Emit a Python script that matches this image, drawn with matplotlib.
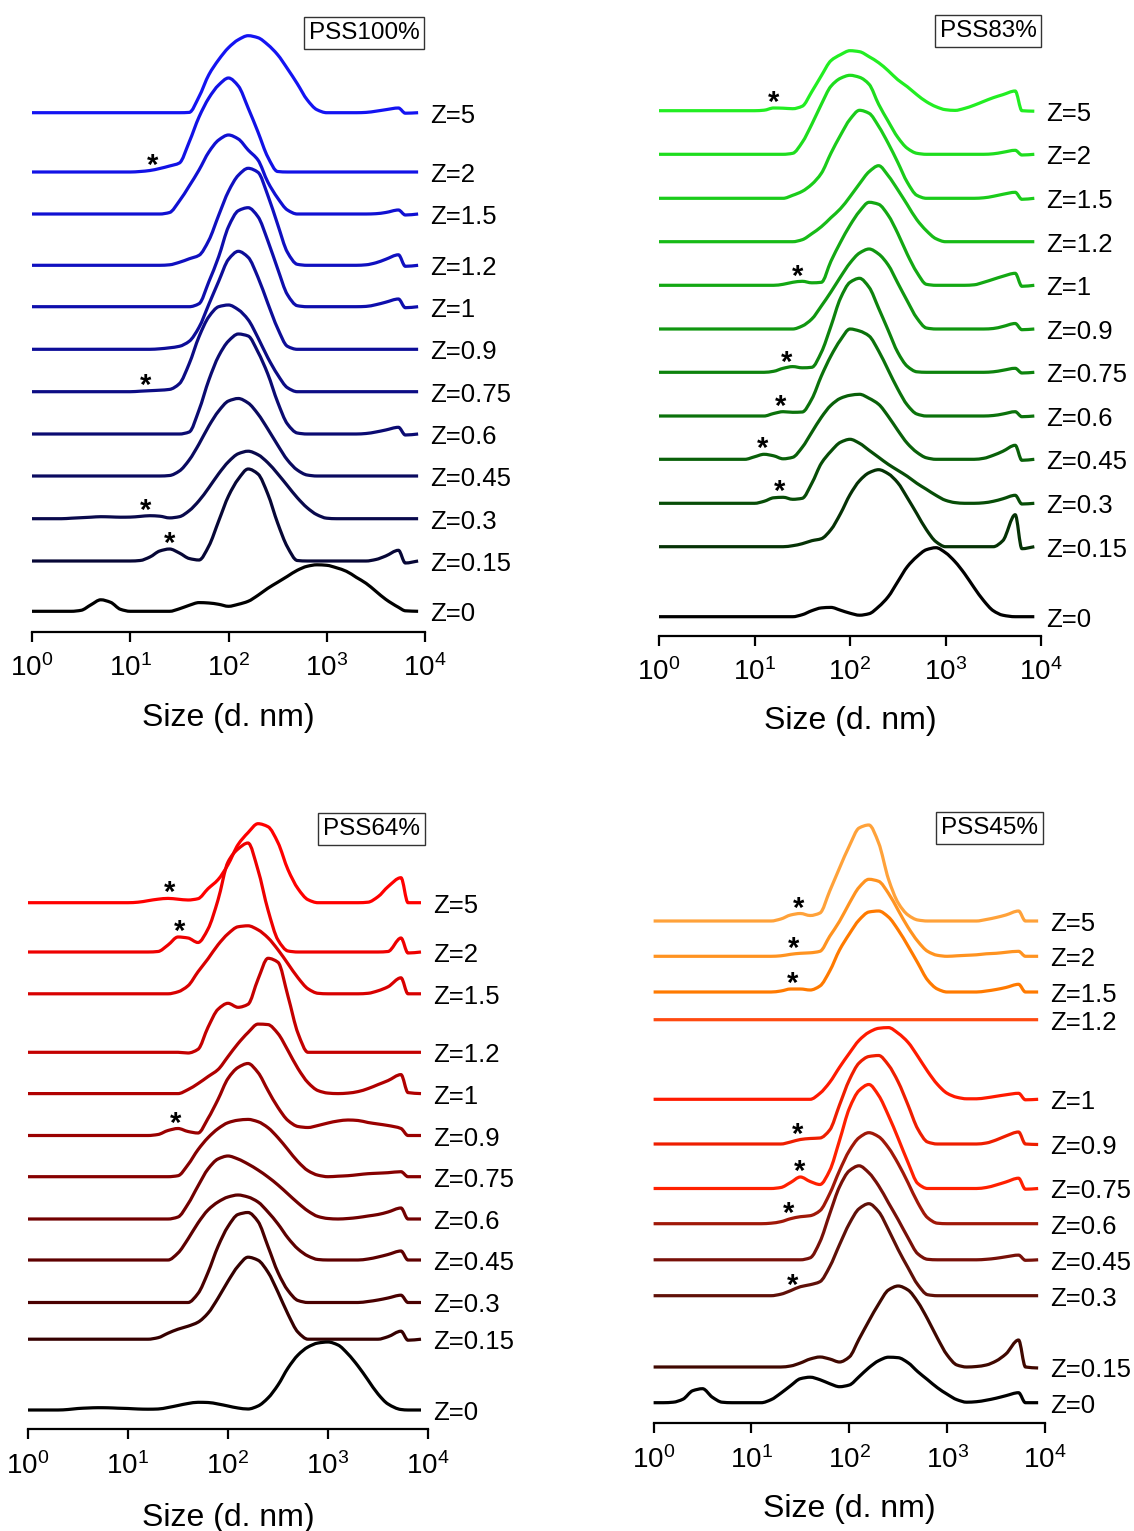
import numpy as np
import matplotlib.pyplot as plt
from matplotlib.ticker import LogLocator, NullFormatter
from matplotlib.path import Path
from matplotlib.patches import PathPatch

plt.rcParams['font.family'] = ['Liberation Sans', 'DejaVu Sans']

# log10(size / nm) of the points
log_size = [0.0, 0.1, 0.2, 0.3, 0.4, 0.5, 0.6, 0.7, 0.8, 0.9,
            1.0, 1.1, 1.2, 1.3, 1.4, 1.5, 1.6, 1.7, 1.8, 1.9,
            2.0, 2.1, 2.2, 2.3, 2.4, 2.5, 2.6, 2.7, 2.8, 2.9,
            3.0, 3.1, 3.2, 3.3, 3.4, 3.5, 3.6, 3.73, 3.8, 3.93]

z_labels = ["Z=5", "Z=2", "Z=1.5", "Z=1.2", "Z=1", "Z=0.9",
            "Z=0.75", "Z=0.6", "Z=0.45", "Z=0.3", "Z=0.15", "Z=0"]

tick_sizes = [1, 10, 100, 1000, 10000]
tick_labels = [r"$\mathregular{10^{0}}$", r"$\mathregular{10^{1}}$", r"$\mathregular{10^{2}}$",
               r"$\mathregular{10^{3}}$", r"$\mathregular{10^{4}}$"]

# ---------------- PSS100% ----------------
pss100_offsets = [519, 459.7, 417.7, 366.4, 325, 282.4, 240, 197.7, 155.7, 113, 70.7, 20.4]
pss100_curves = [
    [0, 0, 0, 0, 0, 0, 0, 0, 0, 0,
     0, 0, 0, 0, 0, 0, 0.3, 16, 38, 53,
     65, 73, 77, 75, 68, 58, 44, 29, 13, 3,
     0, 0, 0, 0, 0.3, 1.5, 3, 4.7, -0.5, 0],
    [0, 0, 0, 0, 0, 0, 0, 0, 0, 0,
     0, 0.5, 1.5, 3.5, 6, 9, 30, 55, 74, 87,
     94, 86, 64, 40, 15, 0.5, 0, 0, 0, 0,
     0, 0, 0, 0, 0, 0, 0, 0, 0, 0],
    [0, 0, 0, 0, 0, 0, 0, 0, 0, 0,
     0, 0, 0, 0, 1.5, 13, 28, 44, 62, 74,
     79, 75, 64, 54, 32, 16, 4, 0, 0, 0,
     0, 0, 0, 0, 0, 0.3, 1.5, 4, -1, 0],
    [0, 0, 0, 0, 0, 0, 0, 0, 0, 0,
     0, 0, 0, 0, 0.5, 3, 6.5, 10, 25, 50,
     74, 90, 97, 93, 70, 41, 13, 1, 0, 0,
     0, 0, 0, 0, 0.5, 2.5, 6, 10.5, -1, 0],
    [0, 0, 0, 0, 0, 0, 0, 0, 0, 0,
     0, 0, 0, 0, 0, 0, 0, 3, 25, 50,
     80, 96, 99, 90, 66, 38, 12, 1, 0, 0,
     0, 0, 0, 0, 0.3, 2, 4.5, 7.7, -1, 0],
    [0, 0, 0, 0, 0, 0, 0, 0, 0, 0,
     0, 0, 0, 0.5, 1.5, 3, 8, 22, 45, 68,
     90, 98, 92, 72, 46, 21, 3, 0, 0, 0,
     0, 0, 0, 0, 0, 0, 0, 0, 0, 0],
    [0, 0, 0, 0, 0, 0, 0, 0, 0, 0,
     0, 0.5, 1, 1.5, 2.3, 8, 28, 55, 75, 85,
     86.7, 82, 72, 54, 34, 17, 4, 0, 0, 0,
     0, 0, 0, 0, 0, 0, 0, 0, 0, 0],
    [0, 0, 0, 0, 0, 0, 0, 0, 0, 0,
     0, 0, 0, 0, 0, 0, 2, 24, 54, 78,
     93, 100, 98, 82, 60, 32, 10, 1, 0, 0,
     0, 0, 0, 0, 0.5, 2, 4, 6.7, -1, 0],
    [0, 0, 0, 0, 0, 0, 0, 0, 0, 0,
     0, 0, 0, 0, 0.5, 5, 16, 32, 50, 65,
     75, 77.5, 73, 62, 47, 31, 16, 6, 1, 0,
     0, 0, 0, 0, 0, 0, 0, 0, 0, 0],
    [0, 0, 0, 0, 0.5, 1, 1.5, 2, 1.8, 1.5,
     1.6, 2.3, 3, 2.5, 0.8, 2, 8, 18, 31, 45,
     57, 65, 67.5, 64, 56, 45, 33, 21, 11, 4,
     0.5, 0, 0, 0, 0, 0, 0, 0, 0, 0],
    [0, 0, 0, 0, 0, 0, 0, 0, 0, 0,
     0, 0.5, 4, 10, 12, 8, 2.5, 1, 15, 40,
     65, 82, 92, 87, 67, 38, 14, 0.5, 0, 0,
     0, 0, 0, 0, 0, 1.5, 5, 10.7, -2, 0],
    [0, 0, 0, 0, 0, 1, 6.5, 11.5, 9, 2,
     0, 0, 0, 0, 0, 2.5, 6, 8.7, 8.3, 7,
     5, 7, 10, 16, 23, 29, 35, 41, 45, 46.5,
     46, 43.5, 40, 34, 28, 20, 12, 4, 0.5, 0],
]
pss100_colors = ['#1414f2', '#1212e6', '#1010d2', '#1010c0', '#0e0eac', '#0d0d98',
                 '#0c0c84', '#0b0b72', '#0a0a60', '#09094c', '#070736', '#000000']
pss100_stars = [(1, 1.23), (6, 1.16), (9, 1.16), (10, 1.40)]

# ---------------- PSS83% ----------------
pss83_offsets = [525, 481.4, 437.4, 394, 350.4, 306.7, 263.4, 219.7, 176.4, 132.4, 89, 19]
pss83_curves = [
    [0, 0, 0, 0, 0, 0, 0, 0, 0, 0,
     0, 0.5, 2.7, 2.5, 2, 4.5, 19, 35, 50, 56,
     60, 59, 54, 48, 40, 31, 24, 16, 9, 4,
     1, 0.3, 2.3, 5.5, 9.3, 13, 16, 19.7, 0, -0.5],
    [0, 0, 0, 0, 0, 0, 0, 0, 0, 0,
     0, 0, 0, 0, 1, 12, 30, 50, 68, 76,
     79, 77, 70, 50, 33, 17, 6, 1, 0, 0,
     0, 0, 0, 0, 0, 0.5, 2, 4, -0.7, 0],
    [0, 0, 0, 0, 0, 0, 0, 0, 0, 0,
     0, 0, 0, 0, 3, 7, 14, 25, 45, 63,
     79, 88, 85, 72, 55, 36, 16, 3, 0, 0,
     0, 0, 0, 0, 0.5, 2, 4, 6, -1, 0],
    [0, 0, 0, 0, 0, 0, 0, 0, 0, 0,
     0, 0, 0, 0, 0, 2, 8, 15, 24, 33,
     45, 58, 70, 76, 66, 52, 37, 22, 11, 3,
     0, 0, 0, 0, 0, 0, 0, 0, 0, 0],
    [0, 0, 0, 0, 0, 0, 0, 0, 0, 0,
     0, 0, 0, 1, 3, 4, 2.5, 3, 24, 43,
     60, 74, 83, 81, 70, 52, 31, 13, 1, 0,
     0, 0, 0, 0.5, 3, 6, 9, 12, -1, 0],
    [0, 0, 0, 0, 0, 0, 0, 0, 0, 0,
     0, 0, 0, 0, 0, 3, 10, 23, 37, 52,
     66, 76, 80, 75, 64, 46, 28, 11, 1, 0,
     0, 0, 0, 0, 0, 0.5, 2.5, 5.5, -0.7, 0],
    [0, 0, 0, 0, 0, 0, 0, 0, 0, 0,
     0, 0, 1, 4, 5.7, 4.5, 5, 20, 46, 74,
     90, 94, 85, 64, 42, 20, 6, 0.5, 0, 0,
     0, 0, 0, 0, 0, 0.5, 2, 4, -0.7, 0],
    [0, 0, 0, 0, 0, 0, 0, 0, 0, 0,
     0, 0, 2.5, 4.3, 3.7, 4, 17, 40, 60, 76,
     87, 85, 80, 65, 46, 27, 11, 2, 0, 0,
     0, 0, 0, 0, 0, 0.5, 2, 4.3, -0.7, 0],
    [0, 0, 0, 0, 0, 0, 0, 0, 0, 0,
     2.5, 5, 3.5, 0.5, 2, 12, 27, 42, 54, 61,
     64, 65, 61, 55, 43, 29, 16, 7, 1.5, 0,
     0, 0, 0, 0, 1, 4, 8, 14, -1, 0],
    [0, 0, 0, 0, 0, 0, 0, 0, 0, 0,
     0, 2, 5.5, 6, 4, 5, 20, 40, 52, 61,
     64, 60, 53, 46, 39, 33, 27, 20, 14, 8,
     3, 0.7, 0, 0, 0.5, 2, 4.5, 8, -0.7, 0],
    [0, 0, 0, 0, 0, 0, 0, 0, 0, 0,
     0, 0, 0, 0, 1, 3, 6, 8, 17, 33,
     52, 66, 74, 77, 73, 64, 49, 33, 17, 5,
     0, 0, 0, 0, 0, 0, 6, 32, -2, 0],
    [0, 0, 0, 0, 0, 0, 0, 0, 0, 0,
     0, 0, 0, 0, 0, 2, 6, 8.8, 9.3, 6.5,
     3.5, 1.5, 3, 10, 20, 35, 50, 60, 67, 69,
     64, 55, 43, 29, 16, 6, 1.5, 0, 0, 0],
]
pss83_colors = ['#22ee22', '#1edd1e', '#1acc1a', '#17bb17', '#13a813', '#109610',
                '#0d830d', '#0b720b', '#096009', '#074d07', '#053205', '#000000']
pss83_stars = [(0, 1.2), (4, 1.45), (6, 1.34), (7, 1.27), (8, 1.08), (9, 1.26)]

# ---------------- PSS64% ----------------
pss64_offsets = [526.6, 477.3, 435.5, 377, 335.7, 293.8, 252.6, 210.3, 169.3, 126.8, 90.1, 19.3]
pss64_curves = [
    [0, 0, 0, 0, 0, 0, 0, 0, 0, 0,
     0, 0.5, 2, 3.5, 4.3, 3.5, 2.7, 4, 14, 23,
     38, 58, 70, 79, 76, 60, 33, 14, 3, 0,
     0, 0, 0, 0, 0.5, 6, 16, 25, 0, 0],
    [0, 0, 0, 0, 0, 0, 0, 0, 0, 0,
     0, 0, 0, 0.5, 7, 15, 14, 9.5, 23, 52,
     90, 103, 109, 82, 42, 12, 1, 0, 0, 0,
     0, 0, 0, 0, 0, 0, 0.5, 14, -1, 0],
    [0, 0, 0, 0, 0, 0, 0, 0, 0, 0,
     0, 0, 0, 0, 0, 2, 8, 22, 35, 49,
     60, 67, 68, 64, 56, 44, 30, 16, 5, 0.5,
     0, 0, 0, 0, 0.5, 3, 7, 16, 0, 0],
    [0, 0, 0, 0, 0, 0, 0, 0, 0, 0,
     0, 0, 0, 0, 0, 0, -0.7, 3, 25, 43,
     49, 45, 48, 73, 94, 90, 56, 19, 0, 0,
     0, 0, 0, 0, 0, 0, 0, 0, 0, 0],
    [0, 0, 0, 0, 0, 0, 0, 0, 0, 0,
     0, 0, 0, 0, 0, 0, 4, 10, 17, 24,
     37, 50, 61, 69.5, 69, 60, 43, 25, 11, 3,
     0.5, 0, 0.5, 2, 5, 9, 13, 19, 1, 0],
    [0, 0, 0, 0, 0, 0, 0, 0, 0, 0,
     0, 0, 0, 1, 5, 7, 4, 2.5, 17, 36,
     57, 68, 72, 63, 45, 28, 15, 9, 8, 10,
     12.5, 14.5, 15.5, 15, 13, 11.5, 10, 7, 0, 0],
    [0, 0, 0, 0, 0, 0, 0, 0, 0, 0,
     0, 0, 0, 0, 0, 1, 12, 27, 39, 48,
     54, 56.5, 57.3, 55, 49, 39, 27, 15, 6, 1.5,
     0, 0.5, 1, 2, 3, 3.5, 4, 5, 0, 0],
    [0, 0, 0, 0, 0, 0, 0, 0, 0, 0,
     0, 0, 0, 0, 0, 2, 15, 33, 50, 60,
     63, 60, 55, 49, 42, 34, 25, 16, 8, 2.5,
     0.5, 0, 0.5, 1.5, 3, 4.5, 7, 11, 0, 0],
    [0, 0, 0, 0, 0, 0, 0, 0, 0, 0,
     0, 0, 0, 0, 0, 7, 21, 37, 50, 58,
     63, 65, 63, 58, 48, 36, 22, 11, 4, 0.5,
     0, 0, 0, 0, 1, 3, 5.5, 9, 0, 0],
    [0, 0, 0, 0, 0, 0, 0, 0, 0, 0,
     0, 0, 0, 0, 0, 0, 0, 9, 30, 56,
     76, 88, 90, 81, 56, 30, 12, 2, 0, 0,
     0, 0, 0, 0, 1, 2.5, 4.5, 7.3, 0, 0],
    [0, 0, 0, 0, 0, 0, 0, 0, 0, 0,
     0, 0, 0, 1.5, 6, 10, 13, 17, 26, 41,
     58, 73, 82, 79, 67, 47, 25, 7, 0, 0,
     0, 0, 0, 0, 0, 0, 2.5, 8, -1, 0],
    [0, 0, 0, 0, 0.5, 1.5, 2, 2.3, 2.2, 1.8,
     1.5, 1, 0.8, 1, 2.5, 4.5, 6.5, 7.7, 7.5, 6,
     4, 2, 1, 4, 12, 25, 42, 55, 63, 67,
     68, 65, 56, 44, 30, 16, 6, 0.5, 0, 0],
]
pss64_colors = ['#ff0000', '#ee0000', '#d80000', '#c40000', '#b00000', '#9a0000',
                '#860000', '#720000', '#5e0000', '#4a0000', '#360000', '#000000']
pss64_stars = [(0, 1.42), (1, 1.52), (5, 1.48)]

# ---------------- PSS45% ----------------
pss45_offsets = [502.3, 467, 431.3, 403.6, 324, 279.3, 234.8, 199.6, 163.5, 127.6, 56.3, 20.6]
pss45_curves = [
    [0, 0, 0, 0, 0, 0, 0, 0, 0, 0,
     0, 0, 0, 2, 6, 7.5, 5.5, 8, 30, 53,
     75, 93, 96, 78, 42, 18, 6, 1, 0, 0,
     0, 0, 0, 0, 1.5, 3.5, 6, 10, 0, 0],
    [0, 0, 0, 0, 0, 0, 0, 0, 0, 0,
     0, 0, 0, 0.5, 2, 3, 3.5, 5, 20, 35,
     53, 69, 77, 75, 63, 46, 29, 15, 5, 1,
     0, 0.5, 1, 1.5, 2.5, 3, 4, 5, 0, 0],
    [0, 0, 0, 0, 0, 0, 0, 0, 0, 0,
     0, 0, 0, 1, 3, 3, 2, 6, 21, 42,
     58, 72, 80, 81, 75, 62, 46, 29, 12, 3,
     0, 0, 0, 0, 1, 2.5, 4.5, 7.7, 0, 0],
    [0, 0, 0, 0, 0, 0, 0, 0, 0, 0,
     0, 0, 0, 0, 0, 0, 0, 0, 0, 0,
     0, 0, 0, 0, 0, 0, 0, 0, 0, 0,
     0, 0, 0, 0, 0, 0, 0, 0, 0, 0],
    [0, 0, 0, 0, 0, 0, 0, 0, 0, 0,
     0, 0, 0, 0, 0, 0, 0, 6, 17, 32,
     46, 59, 67, 71, 71.7, 66, 57, 43, 28, 15,
     6, 2, 0.5, 0.5, 1.5, 3, 4.5, 6, -0.5, 0],
    [0, 0, 0, 0, 0, 0, 0, 0, 0, 0,
     0, 0, 0, 0, 2, 4.5, 5.5, 6, 14, 39,
     64, 81, 87.5, 88.5, 79, 62, 39, 15, 2, 0,
     0, 0, 0, 0, 1, 4, 8, 12, 0, -0.5],
    [0, 0, 0, 0, 0, 0, 0, 0, 0, 0,
     0, 0, 0, 1, 6, 11.5, 7, 4, 18, 48,
     80, 98, 104, 93, 73, 50, 26, 5, 0, 0,
     0, 0, 0, 0, 1, 3.5, 6.5, 10.3, -0.7, 0],
    [0, 0, 0, 0, 0, 0, 0, 0, 0, 0,
     0, 0, 0.5, 2, 5, 7, 8, 13, 30, 53,
     73, 86, 91, 87, 76, 60, 41, 21, 6, 0.5,
     0, 0, 0, 0, 0, 0, 0, 0, 0, 0],
    [0, 0, 0, 0, 0, 0, 0, 0, 0, 0,
     0, 0, 0, 0, 0, 0, 2, 18, 46, 73,
     89, 94, 87, 74, 57, 40, 22, 6, 0.5, 0,
     0, 0, 0, 0, 0.5, 1.5, 3, 4.7, -0.5, 0],
    [0, 0, 0, 0, 0, 0, 0, 0, 0, 0,
     0, 0, 0, 1.5, 5, 9, 11, 14, 29, 51,
     72, 87, 92, 84, 66, 46, 28, 11, 1, 0,
     0, 0, 0, 0, 0, 0, 0, 0, 0, 0],
    [0, 0, 0, 0, 0, 0, 0, 0, 0, 0,
     0, 0, 0, 0, 1, 4, 8, 10, 8, 5,
     10, 28, 46, 63, 77, 81, 77, 65, 48, 29,
     12, 2, 0, 0.5, 2, 6, 13, 27, 0, -1],
    [0, 0, 0.5, 3.5, 12, 14, 5.5, 0.5, 0, 0,
     0, 0, 3, 9.5, 17, 24, 25.5, 23, 19, 16,
     17.7, 26, 35, 42, 45.5, 45, 40, 31, 23, 15,
     8.5, 3, 0.5, 1, 2.5, 4.5, 7, 10, 0, 0],
]
pss45_colors = ['#ffa23a', '#ff9320', '#ff7a00', '#ff4a10', '#ff1a00', '#ee1e00',
                '#ff2000', '#a01808', '#781008', '#601008', '#400800', '#000000']
pss45_stars = [(0, 1.48), (1, 1.43), (2, 1.42), (5, 1.47), (6, 1.49), (7, 1.38), (9, 1.42)]

# layout in figure pixels: (x of 10^0, x of 10^4, top, axis line), title box centre, xlabel drop
W, H = 1134, 1531
panels = [
    ("PSS100%", pss100_offsets, pss100_curves, pss100_colors, pss100_stars,
     (32, 425, 0, 631.7), (364, 33), 94),
    ("PSS83%", pss83_offsets, pss83_curves, pss83_colors, pss83_stars,
     (659, 1041, 0, 635.7), (988, 31), 93),
    ("PSS64%", pss64_offsets, pss64_curves, pss64_colors, pss64_stars,
     (28, 428, 790, 1429.3), (371.5, 829), 97),
    ("PSS45%", pss45_offsets, pss45_curves, pss45_colors, pss45_stars,
     (653.6, 1045, 790, 1423.3), (989.5, 828), 94),
]


def smooth_path(lx, y):
    # draw through the read points with monotone cubic segments (no overshoot)
    lx = np.asarray(lx, float)
    y = np.asarray(y, float)
    h = np.diff(lx)
    d = np.diff(y) / h
    m = np.zeros_like(y)
    m[0], m[-1] = d[0], d[-1]
    for i in range(1, len(y) - 1):
        if d[i - 1] * d[i] > 0:
            w1 = 2 * h[i] + h[i - 1]
            w2 = h[i] + 2 * h[i - 1]
            m[i] = (w1 + w2) / (w1 / d[i - 1] + w2 / d[i])
    verts = [(lx[0], y[0])]
    codes = [Path.MOVETO]
    for i in range(len(h)):
        verts += [(lx[i] + h[i] / 3, y[i] + m[i] * h[i] / 3),
                  (lx[i + 1] - h[i] / 3, y[i + 1] - m[i + 1] * h[i] / 3),
                  (lx[i + 1], y[i + 1])]
        codes += [Path.CURVE4] * 3
    verts = np.array(verts)
    verts[:, 0] = 10 ** verts[:, 0]
    return Path(verts, codes)


fig = plt.figure(figsize=(W / 100, H / 100), dpi=100)

for title, offsets, curves, colors, stars, (x0, x1, ytop, ybot), (cx, cy), drop in panels:
    ax = fig.add_axes([x0 / W, 1 - ybot / H, (x1 - x0) / W, (ybot - ytop) / H])
    ax.set_xscale('log')
    ax.set_xlim(1, 1e4)
    ax.set_ylim(0, ybot - ytop)
    for side in ['left', 'right', 'top']:
        ax.spines[side].set_visible(False)
    ax.spines['bottom'].set_linewidth(1.6)
    ax.set_yticks([])
    ax.set_xticks(tick_sizes)
    ax.set_xticklabels(tick_labels)
    ax.xaxis.set_minor_locator(LogLocator(base=10, subs=np.arange(2, 10)))
    ax.xaxis.set_minor_formatter(NullFormatter())
    ax.tick_params(axis='x', which='major', direction='out', length=7.5, width=1.6,
                   labelsize=20, pad=9)
    ax.tick_params(axis='x', which='minor', direction='out', length=3.8, width=1.3)
    ax.patch.set_visible(False)

    for off, vals, col, lab in zip(offsets, curves, colors, z_labels):
        path = smooth_path(log_size, off + np.array(vals))
        ax.add_patch(PathPatch(path, fill=False, ec=col, lw=2.3, clip_on=False,
                               joinstyle='round', capstyle='butt'))
        ax.annotate(lab, xy=(1e4, off), xytext=(5, -10), textcoords='offset pixels',
                    fontsize=18.5, ha='left', va='baseline', annotation_clip=False)

    for idx, ls in stars:
        k = int(np.argmin(np.abs(np.array(log_size) - ls)))
        ax.annotate('*', xy=(10 ** ls, offsets[idx] + curves[idx][k]), xytext=(0, -3),
                    textcoords='offset pixels', fontsize=21, fontweight='bold',
                    ha='center', va='baseline')

    ax.annotate('Size (d. nm)', xy=(0.5, 0), xycoords='axes fraction', xytext=(0, -drop),
                textcoords='offset pixels', fontsize=23, ha='center', va='baseline',
                annotation_clip=False)

    fig.text(cx / W, 1 - cy / H, title, fontsize=17.5, ha='center', va='center',
             bbox=dict(boxstyle='square,pad=0.2', fc='white', ec='#333333', lw=1.0))

fig.savefig('out.png', dpi=100)
